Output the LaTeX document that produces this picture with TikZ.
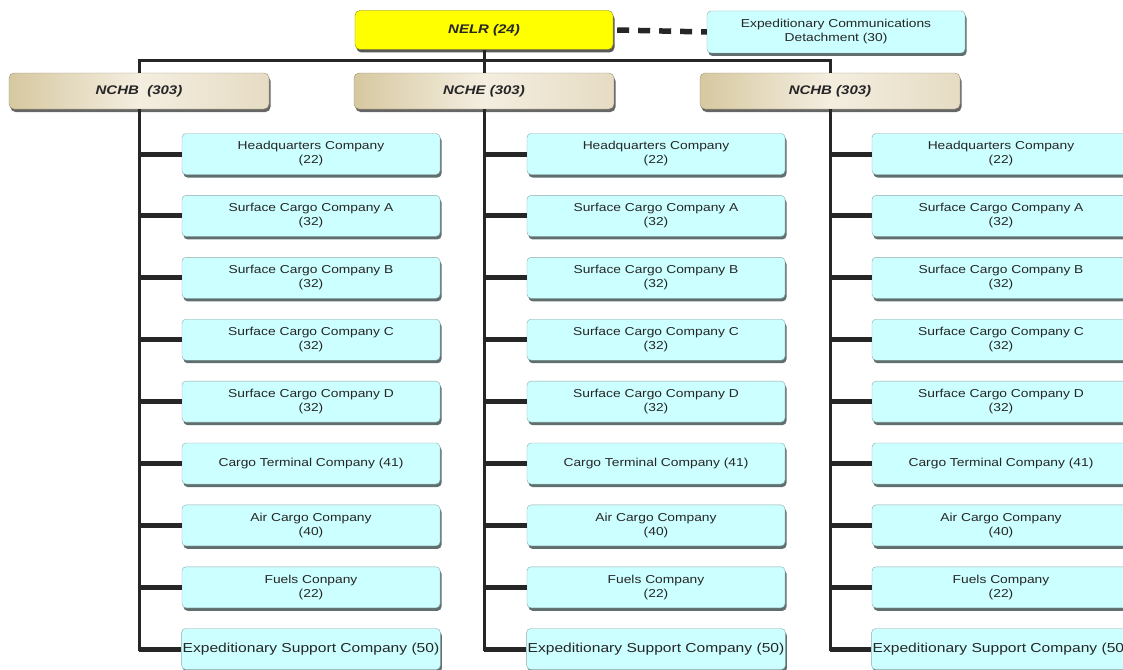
\documentclass[tikz,border=0pt]{standalone}
\usepackage{fontspec}
\setmainfont{Liberation Sans}
\newfontfamily\bfont[FakeStretch=1.2]{Liberation Sans}
\usetikzlibrary{shadows}
\definecolor{cyanbox}{HTML}{CCFFFF}
\definecolor{boxedge}{HTML}{8FA8A8}
\definecolor{shadowc}{HTML}{5F6E6E}
\definecolor{tanL}{HTML}{D6C8A0}
\definecolor{tanM}{HTML}{F4EEE0}
\definecolor{tanR}{HTML}{E6DCC4}
\definecolor{tanedge}{HTML}{9A8F70}
\definecolor{yel}{HTML}{FFFF00}
\definecolor{yeledge}{HTML}{8C8C00}
\begin{document}
\begin{tikzpicture}[x=1pt,y=-1pt,
  cbox/.style={draw=boxedge, fill=cyanbox, rounded corners=4pt,
    minimum width=258pt, minimum height=41pt, align=center, inner sep=1pt,
    text=black!85, font=\bfont\fontsize{11.5}{14}\selectfont,
    drop shadow={shadow xshift=1.5pt, shadow yshift=-3pt, fill=shadowc, opacity=1}},
  hbox/.style={draw=tanedge, left color=tanL, right color=tanR, middle color=tanM,
    rounded corners=5pt, minimum width=260pt, minimum height=36pt,
    text=black!85, font=\bfont\fontsize{12.5}{14}\selectfont\bfseries\itshape,
    drop shadow={shadow xshift=1.5pt, shadow yshift=-3pt, fill=black!60, opacity=1}},
  topbox/.style={draw=yeledge, fill=yel, rounded corners=5pt,
    minimum width=258pt, minimum height=39pt,
    text=black!85, font=\bfont\fontsize{12.5}{14}\selectfont\bfseries\itshape,
    drop shadow={shadow xshift=1.5pt, shadow yshift=-3pt, fill=black!65, opacity=1}},
  bus/.style={line width=3pt, black!85},
  col/.style={line width=3pt, black!85},
  branch/.style={line width=5pt, black!85},
  dashline/.style={line width=5.5pt, black!85, dash pattern=on 12pt off 9pt}
]
\useasboundingbox (0,0) rectangle (1123,669);
\clip (0,0) rectangle (1123,669);

% top
\node[topbox] (nelr) at (484,30) {NELR (24)};
\node[cbox, minimum width=258pt, minimum height=42pt] (ecd) at (836,32)
  {Expeditionary Communications\\Detachment (30)};

% battalions
\node[hbox] (nchb1) at (139,91) {NCHB\ \ (303)};
\node[hbox] (nchb2) at (484,91) {NCHE (303)};
\node[hbox] (nchb3) at (830,91) {NCHB (303)};

% connectors top
\draw[dashline] ([xshift=4pt]nelr.east) -- (ecd.west);
\draw[bus] (nelr.south) -- (nchb2.north);
\draw[bus] (nchb1.north) -- ++(0,-12) -| (nchb3.north);

% left column
\foreach \i/\t in {1/{Headquarters Company\\(22)},
                   2/{Surface Cargo Company A\\(32)},
                   3/{Surface Cargo Company B\\(32)},
                   4/{Surface Cargo Company C\\(32)},
                   5/{Surface Cargo Company D\\(32)},
                   6/{Cargo Terminal Company (41)},
                   7/{Air Cargo Company\\(40)},
                   8/{Fuels Conpany\\(22)}}{
  \node[cbox] (L\i) at (311,{154+(\i-1)*61.9}) {\t};
}
\node[cbox, font=\bfont\fontsize{13}{14}\selectfont] (L9) at (311,649) {Expeditionary Support Company (50)};

% middle and right columns
\foreach \c/\x in {M/656,R/1001}{
  \foreach \i/\t in {1/{Headquarters Company\\(22)},
                     2/{Surface Cargo Company A\\(32)},
                     3/{Surface Cargo Company B\\(32)},
                     4/{Surface Cargo Company C\\(32)},
                     5/{Surface Cargo Company D\\(32)},
                     6/{Cargo Terminal Company (41)},
                     7/{Air Cargo Company\\(40)},
                     8/{Fuels Company\\(22)}}{
    \node[cbox] (\c\i) at (\x,{154+(\i-1)*61.9}) {\t};
  }
  \node[cbox, font=\bfont\fontsize{13}{14}\selectfont] (\c9) at (\x,649) {Expeditionary Support Company (50)};
}

% column connectors
\foreach \c/\h in {L/nchb1,M/nchb2,R/nchb3}{
  \draw[col] (\h.south) |- (\c9.west);
  \foreach \i in {1,...,8}{
    \draw[branch] (\c\i.west -| \h.south) -- (\c\i.west);
  }
  \draw[branch] (\c9.west -| \h.south) -- (\c9.west);
}
\end{tikzpicture}
\end{document}
